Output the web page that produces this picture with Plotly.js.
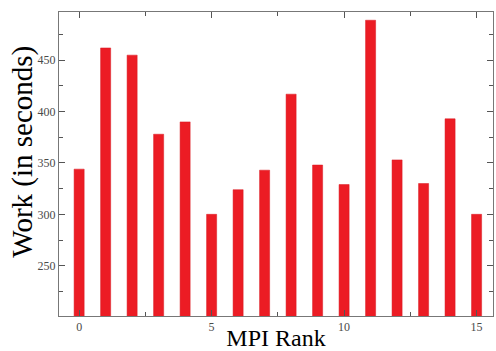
<!DOCTYPE html>
<html>
<head>
<meta charset="utf-8">
<script src="https://cdn.plot.ly/plotly-3.0.1.min.js"></script>
<style>html,body{margin:0;padding:0;background:#fff;}#chart{width:496px;height:351px;}</style>
</head>
<body>
<div id="chart"></div>
<script>
var ranks = [0,1,2,3,4,5,6,7,8,9,10,11,12,13,14,15];
var work = [344,462,455,378,390,300,324,343,417,348,329,489,353,330,393,300];
var xTickVals = [0,5,10,15];
var yTickVals = [250,300,350,400,450];
var xTitle = 'MPI Rank';
var yTitle = 'Work (in seconds)';

var trace = {
  type: 'bar',
  x: ranks,
  y: work,
  width: 0.38,
  marker: {color: '#ec1c24', line: {color: '#d81820', width: 0.5}},
  hoverinfo: 'x+y'
};

var axisCommon = {
  showline: true,
  linecolor: '#777',
  linewidth: 1,
  mirror: 'allticks',
  ticks: 'inside',
  tickcolor: '#555',
  showgrid: false,
  zeroline: false,
  layer: 'above traces',
  tickfont: {family: 'Liberation Serif, serif', size: 12, color: '#4a4a4a'}
};

var layout = {
  width: 496,
  height: 351,
  margin: {l: 59, r: 3, t: 12, b: 35},
  paper_bgcolor: '#fff',
  plot_bgcolor: '#fff',
  showlegend: false,
  bargap: 0,
  xaxis: Object.assign({}, axisCommon, {
    range: [-0.76, 15.62],
    tickmode: 'array',
    tickvals: xTickVals,
    ticktext: xTickVals.map(String),
    ticklen: 6,
    minor: {dtick: 2.5, tick0: 0, ticks: 'inside', ticklen: 4, tickcolor: '#555', showgrid: false},
    title: {text: xTitle, font: {family: 'Liberation Serif, serif', size: 24, color: '#000'}, standoff: 0}
  }),
  yaxis: Object.assign({}, axisCommon, {
    range: [201, 497],
    tickmode: 'array',
    tickvals: yTickVals,
    ticktext: yTickVals.map(String),
    ticklen: 6,
    minor: {dtick: 25, tick0: 0, ticks: 'inside', ticklen: 4, tickcolor: '#555', showgrid: false}
  }),
  annotations: [{
    text: yTitle,
    xref: 'paper', yref: 'paper',
    x: -0.085, y: 0.541,
    xanchor: 'center', yanchor: 'middle',
    textangle: -90,
    showarrow: false,
    font: {family: 'Liberation Serif, serif', size: 29, color: '#000'}
  }]
};

Plotly.newPlot('chart', [trace], layout, {displayModeBar: false, staticPlot: true});
</script>
</body>
</html>
